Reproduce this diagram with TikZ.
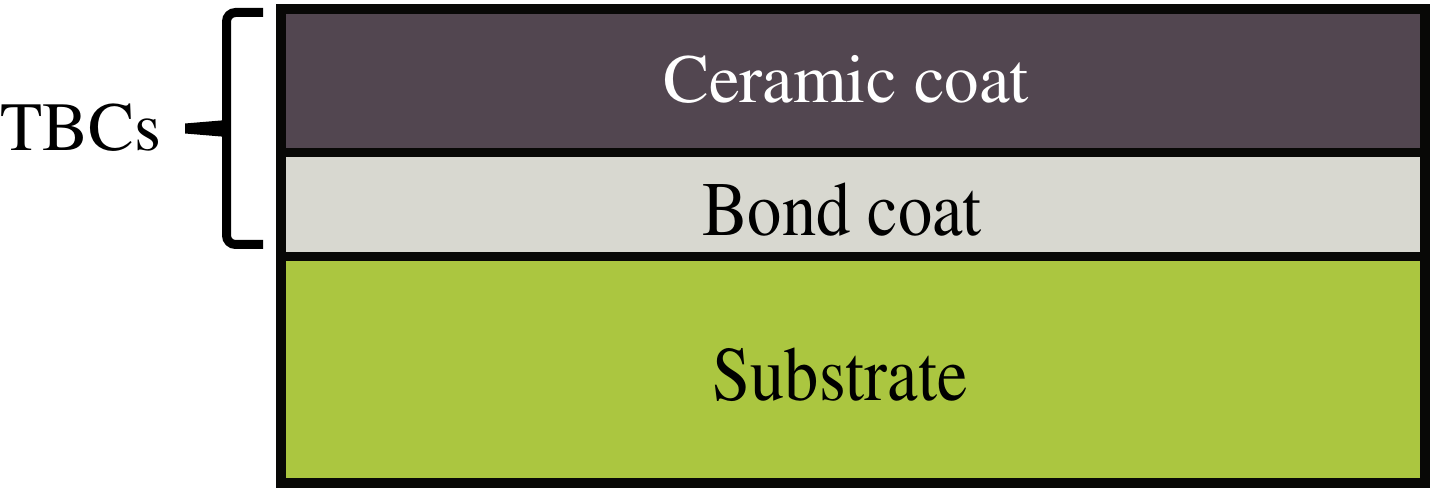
\documentclass[tikz,border=0pt]{standalone}
\usepackage[T1]{fontenc}
\usepackage{mathptmx}
\definecolor{ceramic}{HTML}{524650}
\definecolor{bondc}{HTML}{D8D8D0}
\definecolor{subst}{HTML}{ABC640}
\definecolor{edge}{HTML}{080806}
\tikzset{
  lbl/.style={anchor=base, inner sep=0pt, font=\fontsize{69}{80}\selectfont},
  lblwide/.style={anchor=base, inner sep=0pt, font=\fontsize{77}{88}\selectfont, xscale=0.89},
  border/.style={draw=edge, line width=9.5pt},
}
\begin{document}
\begin{tikzpicture}[x=1pt,y=-1pt]
\useasboundingbox (0,0) rectangle (1436,494);
% layers
\fill[ceramic] (281,9) rectangle (1425,152.5);
\fill[bondc] (281,152.5) rectangle (1425,256.5);
\fill[subst] (281,256.5) rectangle (1425,483);
\draw[border] (281,152.5) -- (1425,152.5);
\draw[border] (281,256.5) -- (1425,256.5);
\draw[border, line join=miter] (281,9) rectangle (1425,483);
% texts
\node[lbl, text=white] (cer) at (846,102.7) {Ceramic coat};
\node[lblwide] (bond) at (842,236) {Bond coat};
\node[lblwide] (sub) at (840,400) {Substrate};
\node[lbl] (tbc) at (81,150.7) {TBCs};
% brace
\draw[line width=9pt, rounded corners=9pt] (263,12.5) -- (226.5,12.5) -- (226.5,244.5) -- (263,244.5);
\fill (185,123.5) -- (227,120) -- (227,137) -- (185,133.5) -- cycle;
\end{tikzpicture}
\end{document}
